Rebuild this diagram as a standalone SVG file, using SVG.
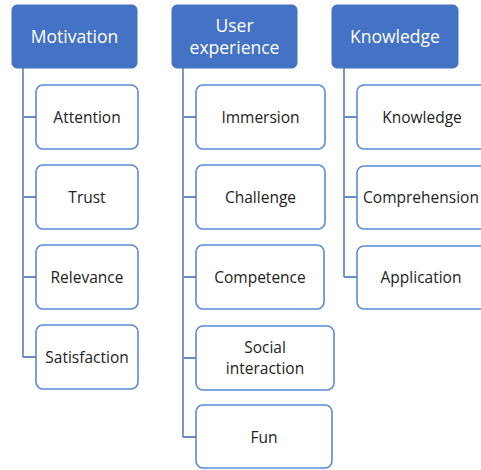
<svg xmlns="http://www.w3.org/2000/svg" width="481" height="470" viewBox="0 0 481 470">
<style>
.hdr{fill:#4472C4;stroke:#4472C4;stroke-width:1}
.box{fill:#FFFFFF;stroke:#5B8AD6;stroke-width:1.6}
.ht{font-family:"Open Sans","Liberation Sans",sans-serif;font-size:17.5px;fill:#FFFFFF;text-anchor:middle;dominant-baseline:central}
.bt{font-family:"Open Sans","Liberation Sans",sans-serif;font-size:15.5px;fill:#222222;text-anchor:middle;dominant-baseline:central}
.con{fill:none;stroke:#6A8BCB;stroke-width:1.8}
</style>
<rect width="481" height="470" fill="#FFFFFF"/>
<g id="connectors">
<path class="con" d="M23 68 V357 M23 117 H36 M23 197 H36 M23 277 H36 M23 357 H36"/>
<path class="con" d="M183 68 V437 M183 117 H196 M183 197 H196 M183 277 H196 M183 358 H196 M183 437 H196"/>
<path class="con" d="M344 68 V277 M344 117 H357 M344 197 H357 M344 277 H357"/>
</g>
<g id="motivation"><rect class="hdr" x="12" y="5" width="125" height="63" rx="5"/><text class="ht" x="74.5" y="36">Motivation</text></g>
<g id="attention"><rect class="box" x="36" y="85" width="102" height="64" rx="7"/><text class="bt" x="87" y="117">Attention</text></g>
<g id="trust"><rect class="box" x="36" y="165" width="102" height="64" rx="7"/><text class="bt" x="87" y="197">Trust</text></g>
<g id="relevance"><rect class="box" x="36" y="245" width="102" height="64" rx="7"/><text class="bt" x="87" y="277">Relevance</text></g>
<g id="satisfaction"><rect class="box" x="36" y="325" width="102" height="64" rx="7"/><text class="bt" x="87" y="357">Satisfaction</text></g>
<g id="user-experience"><rect class="hdr" x="172" y="5" width="125" height="63" rx="5"/><text class="ht" x="234.5" y="25">User</text><text class="ht" x="234.5" y="47">experience</text></g>
<g id="immersion"><rect class="box" x="196" y="85" width="129" height="64" rx="7"/><text class="bt" x="260.5" y="117">Immersion</text></g>
<g id="challenge"><rect class="box" x="196" y="165" width="129" height="64" rx="7"/><text class="bt" x="260.5" y="197">Challenge</text></g>
<g id="competence"><rect class="box" x="196" y="245" width="128" height="64" rx="7"/><text class="bt" x="260" y="277">Competence</text></g>
<g id="social-interaction"><rect class="box" x="196" y="326" width="138" height="64" rx="7"/><text class="bt" x="265" y="347">Social</text><text class="bt" x="265" y="368">interaction</text></g>
<g id="fun"><rect class="box" x="196" y="405" width="136" height="63" rx="7"/><text class="bt" x="264" y="437">Fun</text></g>
<g id="knowledge-header"><rect class="hdr" x="332" y="5" width="126" height="63" rx="5"/><text class="ht" x="395" y="36">Knowledge</text></g>
<g id="knowledge"><rect class="box" x="357" y="85" width="130" height="64" rx="7"/><text class="bt" x="422" y="117">Knowledge</text></g>
<g id="comprehension"><rect class="box" x="357" y="166" width="130" height="63" rx="7"/><text class="bt" x="421" y="197">Comprehension</text></g>
<g id="application"><rect class="box" x="357" y="246" width="130" height="63" rx="7"/><text class="bt" x="421" y="277">Application</text></g>
</svg>
